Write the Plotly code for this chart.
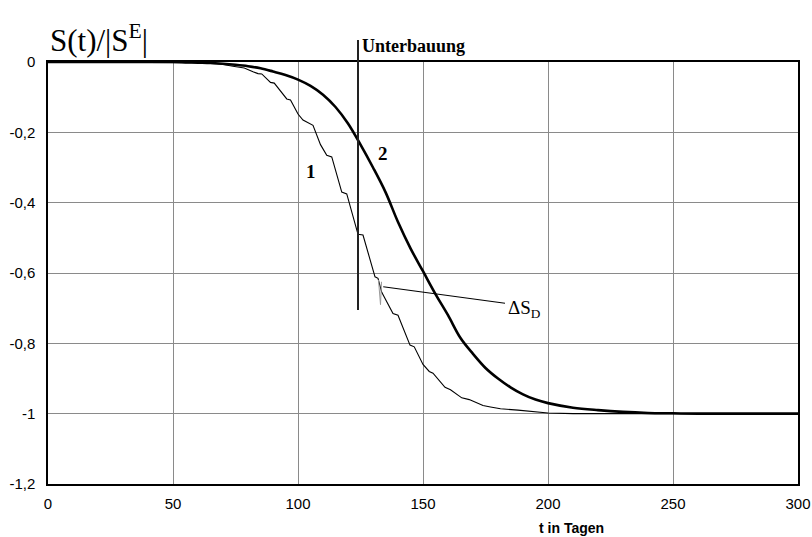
import plotly.graph_objects as go

# Curve 2 (thick, smooth)
T2 = [0, 50, 55, 60, 65, 70, 75, 80, 85, 90, 95, 100, 105, 110, 115, 120, 125, 130, 135, 140,
      145, 150, 155, 160, 165, 170, 175, 180, 185, 190, 195, 200, 210, 220, 230, 240, 250, 260, 300]
S2 = [0, 0, -0.001, -0.002, -0.003, -0.005, -0.008, -0.012, -0.018, -0.027, -0.037, -0.05, -0.068,
      -0.093, -0.128, -0.175, -0.235, -0.30, -0.37, -0.455, -0.53, -0.595, -0.66, -0.72, -0.785,
      -0.83, -0.87, -0.9, -0.925, -0.945, -0.96, -0.97, -0.983, -0.99, -0.995, -0.998, -0.999, -1, -1]

# Curve 1 (thin, stepped)
T1 = [0, 50, 55, 60, 65, 70, 74, 77, 78.5, 82, 84, 85.5, 89, 90.5, 95.5, 97, 100, 102, 104.5, 106,
      109, 111.5, 113.5, 117.5, 119.5, 123.5, 124, 126, 130.8, 132, 133.5, 138, 140, 144.8, 146.5,
      150, 152.5, 154, 158.8, 161, 165.5, 168.5, 174, 177, 181, 188, 195, 200, 210, 300]
S1 = [0, 0, -0.001, -0.002, -0.004, -0.007, -0.012, -0.016, -0.017, -0.028, -0.033, -0.034, -0.058,
      -0.06, -0.105, -0.108, -0.148, -0.165, -0.175, -0.18, -0.235, -0.265, -0.27, -0.37, -0.375,
      -0.478, -0.49, -0.492, -0.611, -0.615, -0.655, -0.715, -0.72, -0.805, -0.81, -0.86, -0.88,
      -0.885, -0.925, -0.932, -0.955, -0.96, -0.977, -0.981, -0.986, -0.99, -0.995, -0.998, -1, -1]

# Delta S_D spike
SPIKE_T = [132.2, 133.0, 133.4]
SPIKE_S = [-0.62, -0.69, -0.625]

# Unterbauung marker
T_UNTER = 124
S_UNTER_LOW = -0.705
UNTER_TOP_PAPER = 1.052

# Annotation leader for Delta S_D
LEADER_T = [134.1, 182.8]
LEADER_S = [-0.639, -0.686]

X_TICKS = [0, 50, 100, 150, 200, 250, 300]
Y_TICKS = [0, -0.2, -0.4, -0.6, -0.8, -1, -1.2]
Y_TICK_TEXT = ["0", "-0,2", "-0,4", "-0,6", "-0,8", "-1", "-1,2"]
Y_MIN, Y_MAX = -1.2, 0

fig = go.Figure()
fig.add_trace(go.Scatter(x=T1, y=S1, mode="lines", line=dict(color="black", width=1.1),
                         showlegend=False, hoverinfo="skip"))
fig.add_trace(go.Scatter(x=T2, y=S2, mode="lines", line=dict(color="black", width=2.6, shape="spline", smoothing=1.0),
                         showlegend=False, hoverinfo="skip"))
fig.add_trace(go.Scatter(x=SPIKE_T, y=SPIKE_S, mode="lines", line=dict(color="#999999", width=1),
                         showlegend=False, hoverinfo="skip"))
fig.add_trace(go.Scatter(x=LEADER_T, y=LEADER_S, mode="lines", line=dict(color="black", width=1.2),
                         showlegend=False, hoverinfo="skip"))

fig.add_shape(type="line", xref="x", yref="paper", x0=T_UNTER, x1=T_UNTER,
              y0=(S_UNTER_LOW - Y_MIN) / (Y_MAX - Y_MIN), y1=UNTER_TOP_PAPER,
              line=dict(color="#222222", width=2))

fig.add_annotation(x=T_UNTER, y=UNTER_TOP_PAPER, xref="x", yref="paper", text="<b>Unterbauung</b>",
                   showarrow=False, xanchor="left", yanchor="top", xshift=2, yshift=6,
                   font=dict(family="Liberation Serif", size=18, color="black"))
fig.add_annotation(x=LEADER_T[1], y=LEADER_S[1], text="ΔS<sub>D</sub>", showarrow=False,
                   xanchor="left", yanchor="middle", xshift=1, yshift=-6,
                   font=dict(family="Liberation Serif", size=19, color="black"))
fig.add_annotation(x=105, y=-0.31, text="<b>1</b>", showarrow=False,
                   font=dict(family="Liberation Serif", size=19, color="black"))
fig.add_annotation(x=134, y=-0.26, text="<b>2</b>", showarrow=False,
                   font=dict(family="Liberation Serif", size=19, color="black"))
fig.add_annotation(x=0, y=1.0, xref="paper", yref="paper", text="S(t)/|S<sup>E</sup>|",
                   showarrow=False, xanchor="left", yanchor="bottom", yshift=2,
                   font=dict(family="Liberation Serif", size=31, color="black"))
fig.add_annotation(x=0.698, y=0, xref="paper", yref="paper", text="<b>t in Tagen</b>",
                   showarrow=False, xanchor="center", yanchor="top", yshift=-34,
                   font=dict(family="Liberation Sans Narrow, Liberation Sans", size=14, color="black"))

axis_common = dict(showgrid=True, gridcolor="#8a8a8a", gridwidth=1, zeroline=False,
                   showline=True, linecolor="black", linewidth=1.5, mirror=True, automargin=False,
                   ticks="", tickfont=dict(family="Liberation Sans", size=15, color="black"))
fig.update_xaxes(range=[0, 300], tickvals=X_TICKS, ticktext=[str(v) for v in X_TICKS],
                 ticklabelstandoff=5, **axis_common)
fig.update_yaxes(range=[Y_MIN, Y_MAX], tickvals=Y_TICKS, ticktext=Y_TICK_TEXT,
                 ticklabelstandoff=8, **axis_common)

fig.update_layout(width=812, height=537, margin=dict(l=48, r=14, t=62, b=53),
                  paper_bgcolor="white", plot_bgcolor="white", showlegend=False)

fig.write_html("out.html")
